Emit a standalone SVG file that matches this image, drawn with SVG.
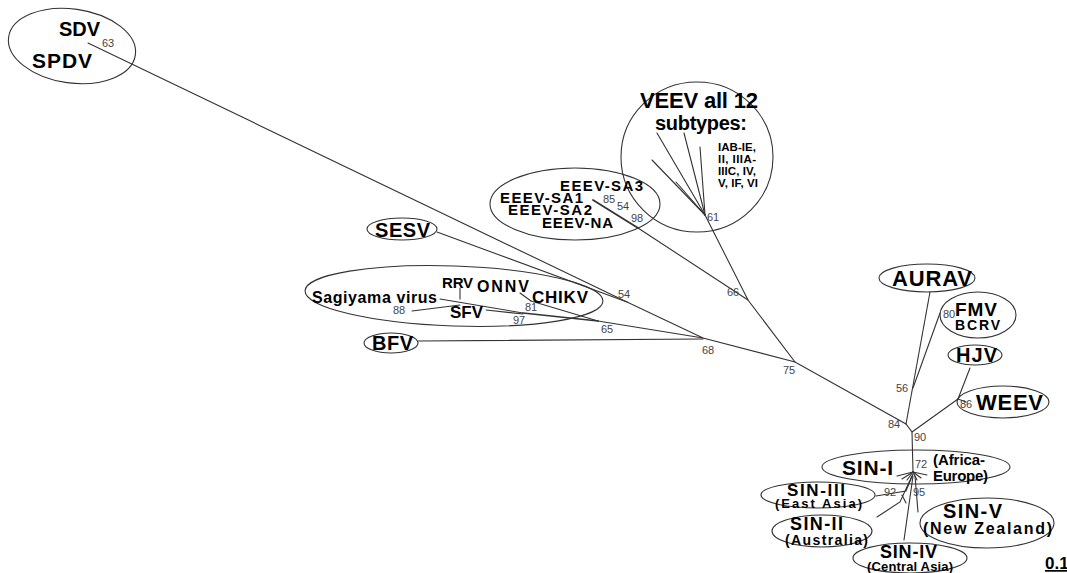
<svg xmlns="http://www.w3.org/2000/svg" width="1067" height="573" viewBox="0 0 1067 573">
<style>
.bg{fill:#fff}
.el{fill:none;stroke:#333;stroke-width:1.1}
.ln{fill:none;stroke:#333;stroke-width:1.1;stroke-linecap:round}
.lb{font-family:"Liberation Sans",Arial,sans-serif;font-weight:bold;fill:#000}
.bs{font-family:"Liberation Sans",Arial,sans-serif;fill:#444;font-size:11px}
</style>
<rect class="bg" x="0" y="0" width="1067" height="573"/>
<g id="connectors">
<polyline class="ln" points="88,43 627,302 703,338 795,362 906,424 912,432 913,472"/>
<line class="ln" x1="437" y1="232" x2="627" y2="302"/>
<line class="ln" x1="593" y1="200" x2="638" y2="228" style="stroke-width:1.8"/>
<line class="ln" x1="638" y1="228" x2="748" y2="300"/>
<polyline class="ln" points="705,215 748,300 795,362"/>
<line class="ln" x1="705" y1="215" x2="657" y2="133"/>
<line class="ln" x1="705" y1="215" x2="652" y2="160"/>
<line class="ln" x1="705" y1="215" x2="684" y2="133"/>
<line class="ln" x1="705" y1="215" x2="700" y2="147"/>
<line class="ln" x1="705" y1="215" x2="676" y2="182"/>
<line class="ln" x1="418" y1="341" x2="703" y2="339"/>
<line class="ln" x1="412" y1="311" x2="460" y2="305"/>
<line class="ln" x1="440" y1="299" x2="523" y2="313"/>
<line class="ln" x1="460" y1="288" x2="460" y2="299"/>
<line class="ln" x1="486" y1="310" x2="523" y2="314"/>
<line class="ln" x1="520" y1="293" x2="531" y2="301"/>
<line class="ln" x1="523" y1="313" x2="598" y2="321" style="stroke-width:1.6"/>
<line class="ln" x1="531" y1="301" x2="598" y2="321"/>
<line class="ln" x1="598" y1="321" x2="703" y2="338"/>
<line class="ln" x1="930" y1="292" x2="906" y2="424"/>
<line class="ln" x1="940" y1="313" x2="913" y2="388"/>
<line class="ln" x1="970" y1="368" x2="958" y2="399"/>
<line class="ln" x1="958" y1="399" x2="912" y2="432"/>
<line class="ln" x1="958" y1="399" x2="966" y2="402"/>
<g style="stroke-width:1.8">
<line class="ln" x1="913" y1="472" x2="897" y2="476"/>
<line class="ln" x1="913" y1="472" x2="902" y2="479"/>
<line class="ln" x1="913" y1="472" x2="907" y2="480"/>
<line class="ln" x1="913" y1="472" x2="921" y2="478"/>
<line class="ln" x1="913" y1="472" x2="927" y2="475"/>
<line class="ln" x1="913" y1="472" x2="917" y2="480"/>
</g>
<polyline class="ln" points="876,496 906,491 913,474"/>
<polyline class="ln" points="877,517 900,502 912,476"/>
<line class="ln" x1="902" y1="495" x2="906" y2="503"/>
<line class="ln" x1="904" y1="540" x2="913" y2="476"/>
<line class="ln" x1="918" y1="512" x2="915" y2="476"/>
</g>
<g id="n-sdv">
<ellipse class="el" cx="72" cy="46" rx="64" ry="37" transform="rotate(8 72 46)"/>
<text class="lb" x="59" y="36" font-size="20" textLength="41">SDV</text>
<text class="lb" x="32" y="68" font-size="21" textLength="60">SPDV</text>
<text class="bs" x="102" y="47" font-size="10">63</text>
</g>
<g id="n-veev">
<ellipse class="el" cx="697" cy="157" rx="76" ry="75"/>
<text class="lb" x="640" y="108" font-size="22" textLength="118">VEEV all 12</text>
<text class="lb" x="655" y="130" font-size="20" textLength="92">subtypes:</text>
<text class="lb" x="718" y="151" font-size="11.5" textLength="38">IAB-IE,</text>
<text class="lb" x="718" y="163" font-size="11.5" textLength="38">II, IIIA-</text>
<text class="lb" x="718" y="175" font-size="11.5" textLength="38">IIIC, IV,</text>
<text class="lb" x="718" y="187" font-size="11.5" textLength="40">V, IF, VI</text>
<text class="bs" x="707" y="221" font-size="10">61</text>
</g>
<g id="n-eeev">
<ellipse class="el" cx="575" cy="204" rx="85" ry="36"/>
<text class="lb" x="560" y="191" font-size="15" textLength="83">EEEV-SA3</text>
<text class="lb" x="500" y="203" font-size="15" textLength="83">EEEV-SA1</text>
<text class="lb" x="508" y="215" font-size="15" textLength="84">EEEV-SA2</text>
<text class="lb" x="542" y="228" font-size="15" textLength="71">EEEV-NA</text>
<text class="bs" x="603" y="203" font-size="10">85</text>
<text class="bs" x="617" y="210" font-size="10">54</text>
<text class="bs" x="631" y="222" font-size="10">98</text>
</g>
<g id="n-sesv">
<ellipse class="el" cx="402" cy="229" rx="35" ry="11"/>
<text class="lb" x="375" y="237" font-size="20" textLength="55">SESV</text>
</g>
<g id="n-sfv">
<ellipse class="el" cx="454" cy="296" rx="149" ry="30" transform="rotate(2 454 296)"/>
<text class="lb" x="312" y="303" font-size="16" textLength="125">Sagiyama virus</text>
<text class="lb" x="442" y="288" font-size="15" textLength="31">RRV</text>
<text class="lb" x="477" y="292" font-size="16" textLength="52">ONNV</text>
<text class="lb" x="532" y="303" font-size="17" textLength="56">CHIKV</text>
<text class="lb" x="450" y="318" font-size="17" textLength="33">SFV</text>
<text class="bs" x="393" y="314" font-size="10">88</text>
<text class="bs" x="525" y="311" font-size="10">81</text>
<text class="bs" x="513" y="324" font-size="10">97</text>
</g>
<g id="n-bfv">
<ellipse class="el" cx="391" cy="343" rx="27" ry="10"/>
<text class="lb" x="372" y="350" font-size="20" textLength="41">BFV</text>
</g>
<g id="n-aurav">
<ellipse class="el" cx="927" cy="278" rx="48" ry="14"/>
<text class="lb" x="892" y="286" font-size="22" textLength="80">AURAV</text>
</g>
<g id="n-fmv">
<ellipse class="el" cx="978" cy="315" rx="38" ry="23"/>
<text class="lb" x="955" y="316" font-size="19" textLength="42">FMV</text>
<text class="lb" x="955" y="330" font-size="14" textLength="45">BCRV</text>
<text class="bs" x="943" y="318" font-size="10">80</text>
</g>
<g id="n-hjv">
<ellipse class="el" cx="975" cy="355" rx="27" ry="10"/>
<text class="lb" x="956" y="362" font-size="20" textLength="41">HJV</text>
</g>
<g id="n-weev">
<ellipse class="el" cx="1003" cy="402" rx="46" ry="16"/>
<text class="lb" x="976" y="410" font-size="22" textLength="67">WEEV</text>
<text class="bs" x="960" y="408" font-size="10">86</text>
</g>
<g id="n-sin1">
<ellipse class="el" cx="916" cy="467" rx="94" ry="17"/>
<text class="lb" x="842" y="475" font-size="21" textLength="51">SIN-I</text>
<text class="lb" x="933" y="465" font-size="15" textLength="52">(Africa-</text>
<text class="lb" x="933" y="481" font-size="15" textLength="55">Europe)</text>
</g>
<g id="n-sin3">
<ellipse class="el" cx="818" cy="495" rx="57" ry="13"/>
<text class="lb" x="787" y="496" font-size="17" textLength="58">SIN-III</text>
<text class="lb" x="775" y="508" font-size="13" textLength="87">(East Asia)</text>
</g>
<g id="n-sin2">
<ellipse class="el" cx="822" cy="531" rx="50" ry="16"/>
<text class="lb" x="790" y="530" font-size="18" textLength="53">SIN-II</text>
<text class="lb" x="785" y="545" font-size="14" textLength="83">(Australia)</text>
</g>
<g id="n-sin5">
<ellipse class="el" cx="987" cy="523" rx="67" ry="25"/>
<text class="lb" x="943" y="518" font-size="20" textLength="59">SIN-V</text>
<text class="lb" x="923" y="534" font-size="16" textLength="129">(New Zealand)</text>
</g>
<g id="n-sin4">
<ellipse class="el" cx="910" cy="558" rx="57" ry="15"/>
<text class="lb" x="880" y="558" font-size="18" textLength="57">SIN-IV</text>
<text class="lb" x="867" y="571" font-size="13" textLength="86">(Central Asia)</text>
</g>
<g id="labels">
<text class="bs" x="618" y="298" font-size="10">54</text>
<text class="bs" x="601" y="333">65</text>
<text class="bs" x="702" y="354">68</text>
<text class="bs" x="783" y="374">75</text>
<text class="bs" x="727" y="296">66</text>
<text class="bs" x="888" y="428">84</text>
<text class="bs" x="896" y="392">56</text>
<text class="bs" x="914" y="441">90</text>
<text class="bs" x="915" y="468">72</text>
<text class="bs" x="884" y="496">92</text>
<text class="bs" x="913" y="496">95</text>
<text class="lb" x="1045" y="569" font-size="17" text-decoration="underline">0.1</text>
</g>
</svg>
